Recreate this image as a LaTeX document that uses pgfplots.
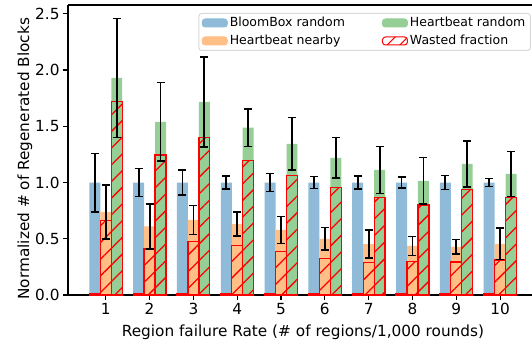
\documentclass[border=0pt]{standalone}
\usepackage{fontspec}
\setmainfont{DejaVu Sans}
\usepackage{pgfplots}
\usepackage{pgfplotstable}
\pgfplotsset{compat=1.18}
\usetikzlibrary{patterns.meta}

\definecolor{cblue}{HTML}{8FBBD9}
\definecolor{corange}{HTML}{FFBF86}
\definecolor{cgreen}{HTML}{95CF95}

% g: failure rate; b/o/gr: BloomBox random, Heartbeat nearby, Heartbeat random
% *e: error half-widths; wb/wo/wg: wasted fraction for each scheme
\pgfplotstableread{
g  b    be     o     oe     gr     ge     wb    wo     wg
1  1.0  0.26   0.74  0.24   1.93   0.53   0.01  0.66   1.72
2  1.0  0.123  0.61  0.20   1.54   0.35   0.01  0.41   1.245
3  1.0  0.11   0.667 0.127  1.717  0.40   0.01  0.478  1.40
4  1.0  0.056  0.63  0.107  1.487  0.165  0.01  0.442  1.198
5  1.0  0.08   0.578 0.12   1.343  0.233  0.01  0.389  1.065
6  1.0  0.052  0.50  0.10   1.22   0.18   0.01  0.326  0.958
7  1.0  0.058  0.452 0.125  1.112  0.21   0.01  0.29   0.869
8  1.0  0.048  0.437 0.085  1.014  0.207  0.01  0.30   0.80
9  1.0  0.062  0.428 0.064  1.165  0.206  0.01  0.294  0.937
10 1.0  0.036  0.455 0.14   1.077  0.20   0.01  0.311  0.869
}\data

\tikzset{hatchred/.style={draw=red, line width=1.3pt,
  pattern={Lines[angle=45,distance=11.8pt,line width=1.3pt]}, pattern color=red}}

% error bars only, drawn on top of the bars
\pgfplotsset{errstyle/.style={forget plot, draw=none, mark=none,
  error bars/y dir=both, error bars/y explicit,
  error bars/error bar style={draw=black, line width=1.8pt},
  error bars/error mark options={draw=black, line width=1.5pt, mark size=4pt, rotate=90}}}

\begin{document}
\begin{tikzpicture}
\begin{axis}[
  name=ax,
  scale only axis,
  width=469.9pt, height=290pt,
  xmin=0.1375, xmax=10.8625,
  ymin=0, ymax=2.578,
  xtick={1,...,10},
  ytick={0,0.5,...,2.5},
  yticklabel style={/pgf/number format/.cd, fixed, fixed zerofill, precision=1},
  /pgf/number format/assume math mode=true,
  tick label style={font=\fontsize{15.3}{18}\selectfont, black},
  label style={font=\fontsize{15.3}{18}\selectfont},
  xlabel={Region failure Rate (\# of regions/1,000 rounds)},
  xlabel style={yshift=-3pt},
  ylabel={Normalized \# of Regenerated Blocks},
  ylabel style={at={(ticklabel cs:0.47,-4pt)}},
  tick align=outside,
  xtick pos=bottom, ytick pos=left,
  major tick length=4.9pt,
  tick style={black, line width=1.1pt},
  axis line style={black, line width=1.1pt},
  axis y line*=left,
  axis x line*=box,
  legend columns=2,
  legend cell align=left,
  legend style={at={(1,1)}, anchor=north east, xshift=-7pt, yshift=-8pt,
    draw=black!15, line width=1pt, rounded corners=3pt,
    font=\fontsize{12.5}{15}\selectfont, row sep=3pt,
    /tikz/every even column/.append style={column sep=35pt}},
]
% legend entries
\addlegendimage{legend image code/.code={\fill[cblue] (0pt,-4pt) rectangle (25pt,4pt);}}
\addlegendentry{BloomBox random}
\addlegendimage{legend image code/.code={\fill[cgreen] (0pt,-4pt) rectangle (25pt,4pt);}}
\addlegendentry{Heartbeat random}
\addlegendimage{legend image code/.code={\fill[corange] (0pt,-4pt) rectangle (25pt,4pt);}}
\addlegendentry{Heartbeat nearby}
\addlegendimage{legend image code/.code={\fill[white] (0pt,-4pt) rectangle (25pt,4pt);
  \draw[hatchred, line width=1pt, pattern={Lines[angle=45,distance=9pt,line width=1pt]}] (0pt,-4pt) rectangle (25pt,4pt);}}
\addlegendentry{Wasted fraction}

% filled bars
\addplot[forget plot, ybar, bar width=0.25, bar shift=-0.25, fill=cblue, draw=none] table[x=g, y=b] {\data};
\addplot[forget plot, ybar, bar width=0.25, bar shift=0, fill=corange, draw=none] table[x=g, y=o] {\data};
\addplot[forget plot, ybar, bar width=0.25, bar shift=0.25, fill=cgreen, draw=none] table[x=g, y=gr] {\data};

% wasted fraction, hatched
\addplot[forget plot, ybar, bar width=0.25, bar shift=-0.25, hatchred] table[x=g, y=wb] {\data};
\addplot[forget plot, ybar, bar width=0.25, bar shift=0, hatchred] table[x=g, y=wo] {\data};
\addplot[forget plot, ybar, bar width=0.25, bar shift=0.25, hatchred] table[x=g, y=wg] {\data};

% error bars at the bar centres
\addplot[errstyle] table[x expr=\thisrow{g}-0.25, y=b, y error=be] {\data};
\addplot[errstyle] table[x=g, y=o, y error=oe] {\data};
\addplot[errstyle] table[x expr=\thisrow{g}+0.25, y=gr, y error=ge] {\data};
\end{axis}
\pgfresetboundingbox
\path[use as bounding box] ([shift={(-68pt,-48pt)}]ax.south west) rectangle ([shift={(464pt,295pt)}]ax.south west);
\end{tikzpicture}
\end{document}
